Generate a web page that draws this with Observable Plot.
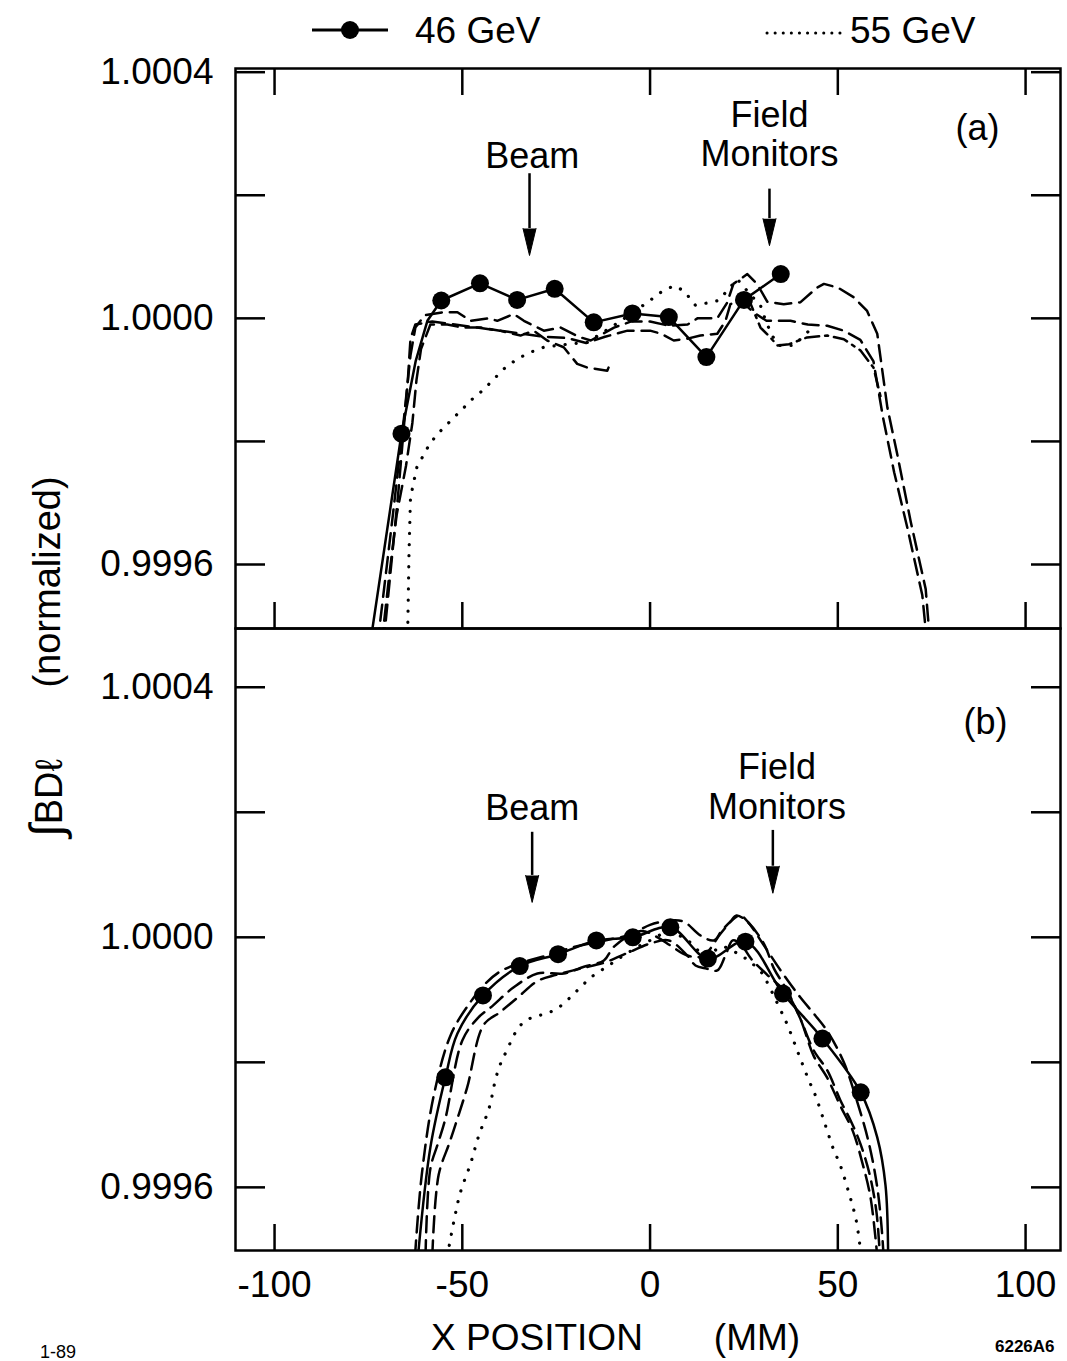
<!DOCTYPE html>
<html><head><meta charset="utf-8">
<script src="https://cdn.jsdelivr.net/npm/d3@7"></script>
<script src="https://cdn.jsdelivr.net/npm/@observablehq/plot@0.6"></script>
<style>
html,body{margin:0;padding:0;background:#fff;}
#page{position:relative;width:1067px;height:1361px;overflow:hidden;font-family:"Liberation Sans",Arial,Helvetica,sans-serif;}
#pa,#pb{position:absolute;left:0;}
#pa{top:0px;}
#pb{top:618px;}
#overlay{position:absolute;left:0;top:0;}
</style></head>
<body><div id="page"><div id="pa"></div><div id="pb"></div>
<svg id="overlay" width="1067" height="1361" font-family="Liberation Sans, Arial, Helvetica, sans-serif">
  <line x1="312" y1="30" x2="388" y2="30" stroke="black" stroke-width="3"/>
  <circle cx="350" cy="30" r="9" fill="black"/>
  <text x="415" y="43" font-size="37">46 GeV</text>
  <line x1="767" y1="33" x2="844" y2="33" stroke="black" stroke-width="3" stroke-dasharray="0.1 8" stroke-linecap="round"/>
  <text x="850" y="43" font-size="37">55 GeV</text>
  <text transform="translate(60,582) rotate(-90)" text-anchor="middle" font-size="38">(normalized)</text>
  <text transform="translate(62,798) rotate(-90)" text-anchor="middle" font-size="38"><tspan font-size="46">∫</tspan>BDℓ</text>
  <text x="537" y="1350" text-anchor="middle" font-size="37">X POSITION</text>
  <text x="757" y="1350" text-anchor="middle" font-size="37">(MM)</text>
  <text x="40" y="1358" font-size="18">1-89</text>
  <text x="995" y="1352" font-size="17" font-weight="bold">6226A6</text>
</svg>
</div>
<script>
// ---------- axis ticks ----------
const xTicks = [-100, -50, 0, 50, 100];
const xTickLabels = ["-100", "-50", "0", "50", "100"];
const yTicks = [0.9996, 0.9998, 1.0000, 1.0002, 1.0004];
const yTickLabels = ["0.9996", "", "1.0000", "", "1.0004"];

// ---------- panel (a) data: x in mm, deviation from 1 in units of 1e-4 ----------
const a46X = [-74.2, -66.2, -62.4, -59.3, -55.6, -45.3, -35.4, -25.4, -15.0, -4.7, 5.0, 15.0, 25.0, 34.8];
const a46D = [-5.15, -1.875, -0.69, -0.04, 0.29, 0.57, 0.30, 0.48, -0.065, 0.08, 0.02, -0.63, 0.30, 0.72];
const a46Dot = [0, 1, 0, 0, 1, 1, 1, 1, 1, 1, 1, 1, 1, 1];

const a55X = [-64.6, -64.2, -63.8, -62.1, -58.5, -55.8, -47.3, -44.7, -38.9, -35.4, -31.8, -28.3, -22.0, -16.7, -8.0, -0.7, 2.8, 6.3, 9.0, 12.1, 18.3, 23.2, 26.5, 29.4, 30.8, 32.5, 34.3, 38.3, 43.2];
const a55D = [-5.3, -3.83, -2.91, -2.42, -2.02, -1.83, -1.31, -1.18, -0.82, -0.66, -0.55, -0.47, -0.42, -0.39, -0.05, 0.26, 0.42, 0.53, 0.45, 0.21, 0.29, 0.64, 0.4, 0.21, -0.04, -0.28, -0.44, -0.44, -0.15];

const aD1X = [-72.6, -68.5, -65.5, -63.8, -62.5, -60.0, -55.0, -51.3, -47.8, -43.0, -40.7, -36.3, -33.6, -28.3, -23.8, -19.0, -15.8, -9.6, -5.0, 0.0, 5.0, 10.0, 12.6, 17.9, 20.5, 22.2, 25.9, 28.5, 31.2, 35.6, 40.0, 44.5, 46.3, 50.0, 54.3, 57.8, 60.5, 63.2, 65.8, 69.4, 73.4, 74.6];
const aD1D = [-5.3, -3.2, -1.6, -0.6, -0.15, 0.05, 0.1, 0.1, -0.04, 0.0, -0.04, 0.07, -0.04, -0.2, -0.15, -0.3, -0.36, -0.15, -0.05, -0.05, -0.12, -0.1, 0.0, 0.0, 0.25, 0.56, 0.72, 0.56, 0.27, 0.23, 0.26, 0.5, 0.56, 0.5, 0.34, 0.12, -0.25, -1.45, -2.2, -3.3, -4.4, -5.3];

const aD2X = [-71.5, -69.5, -67.5, -65.0, -63.3, -62.2, -61.0, -58.5, -54.0, -50.0, -45.0, -40.0, -34.5, -31.0, -27.4, -23.0, -19.4, -16.7, -11.4, -10.5];
const aD2D = [-5.3, -4.2, -3.2, -2.4, -1.7, -1.0, -0.5, -0.1, -0.1, -0.15, -0.15, -0.2, -0.28, -0.2, -0.36, -0.47, -0.74, -0.8, -0.85, -0.72];

const aD3X = [-71.0, -67.0, -64.5, -63.8, -62.5, -58.0, -52.0, -46.0, -40.0, -34.0, -28.0, -22.0, -17.0, -12.0, -6.0, 0.0, 3.0, 6.3, 10.0, 13.4, 17.9, 20.1, 21.4, 24.0, 27.5, 31.0, 37.4, 42.0, 47.2, 51.6, 56.0, 59.5, 62.0, 65.0, 68.5, 72.5, 73.8];
const aD3D = [-5.3, -2.8, -1.0, -0.33, -0.1, -0.05, -0.1, -0.15, -0.2, -0.25, -0.3, -0.32, -0.4, -0.3, -0.2, -0.2, -0.25, -0.36, -0.33, -0.28, -0.25, -0.04, 0.23, 0.3, 0.1, -0.04, -0.04, -0.1, -0.12, -0.2, -0.35, -0.7, -1.6, -2.5, -3.4, -4.5, -5.3];

const aD4X = [26.0, 29.4, 32.0, 33.9, 37.0, 41.8, 47.2, 51.6, 56.0, 59.5, 61.5];
const aD4D = [0.35, -0.15, -0.31, -0.44, -0.42, -0.31, -0.28, -0.34, -0.52, -0.8, -1.3];

// ---------- panel (b) data ----------
const b46X = [-61.8, -58.5, -54.5, -51.3, -44.5, -34.7, -24.5, -14.3, -4.6, 5.4, 15.4, 25.4, 35.4, 45.9, 56.1, 60.5, 62.7, 63.4];
const b46D = [-5.1, -3.36, -2.24, -1.54, -0.93, -0.46, -0.27, -0.05, 0.0, 0.16, -0.34, -0.07, -0.9, -1.62, -2.48, -3.2, -3.97, -5.1];
const b46Dot = [0, 0, 1, 0, 1, 1, 1, 1, 1, 1, 1, 1, 1, 1, 1, 0, 0, 0];

const b55X = [-54.0, -52.2, -50.5, -47.8, -45.6, -42.9, -41.1, -40.0, -38.4, -34.7, -31.4, -27.6, -24.3, -21.4, -18.7, -15.7, -11.0, -6.0, 0.0, 5.0, 10.0, 15.0, 19.0, 23.6, 26.8, 29.9, 31.6, 34.8, 36.5, 39.5, 42.3, 43.9, 46.5, 48.9, 50.5, 52.9, 54.9, 56.2];
const b55D = [-5.1, -4.53, -4.08, -3.62, -3.17, -2.74, -2.26, -2.05, -1.84, -1.42, -1.28, -1.22, -1.12, -0.97, -0.81, -0.64, -0.45, -0.25, -0.05, 0.08, -0.05, -0.3, -0.15, -0.27, -0.4, -0.58, -0.77, -1.17, -1.39, -1.86, -2.29, -2.51, -2.97, -3.4, -3.62, -4.08, -4.53, -5.1];

const bD1X = [-62.6, -60.8, -57.5, -53.0, -48.0, -44.0, -40.0, -35.0, -28.0, -20.0, -12.0, -5.0, 0.0, 5.5, 9.0, 13.4, 17.0, 19.0, 21.4, 24.0, 26.0, 30.0, 35.0, 40.0, 44.0, 47.2, 51.6, 55.0, 58.3, 60.5, 61.6, 62.2];
const bD1D = [-5.1, -3.8, -2.5, -1.55, -1.05, -0.75, -0.55, -0.42, -0.3, -0.15, -0.05, 0.05, 0.2, 0.27, 0.25, 0.03, -0.05, 0.1, 0.25, 0.35, 0.25, -0.1, -0.55, -0.96, -1.25, -1.5, -2.0, -2.6, -3.3, -4.0, -4.6, -5.1];

const bD2X = [-59.8, -58.5, -56.5, -54.5, -50.0, -46.0, -42.0, -36.3, -30.0, -23.0, -17.6, -12.3, -9.6, -2.5, 2.0, 5.4, 9.9, 14.0, 18.8, 21.4, 23.0, 25.9, 30.3, 33.0, 36.5, 40.0, 43.6, 47.2, 50.7, 53.4, 56.0, 58.5, 60.3, 61.2];
const bD2D = [-5.1, -3.7, -3.3, -2.9, -1.65, -1.3, -1.1, -0.8, -0.58, -0.58, -0.47, -0.37, -0.15, 0.1, 0.0, -0.13, -0.29, -0.3, 0.06, 0.25, 0.35, 0.25, -0.1, -0.5, -0.85, -1.3, -1.81, -2.13, -2.61, -2.93, -3.3, -3.8, -4.4, -5.1];

const bD3X = [-58.0, -56.3, -53.5, -51.3, -48.7, -44.3, -40.0, -35.0, -30.0, -25.0, -18.5, -12.0, -6.0, 0.0, 5.0, 9.9, 12.1, 15.0, 17.9, 20.0, 22.0, 24.0, 27.0, 31.2, 36.5, 40.0, 43.6, 47.2, 50.7, 54.0, 56.5, 58.7, 60.5];
const bD3D = [-5.1, -3.8, -3.3, -2.9, -2.4, -1.4, -1.2, -0.95, -0.7, -0.6, -0.5, -0.4, -0.25, -0.1, -0.05, -0.29, -0.45, -0.5, -0.53, -0.3, -0.05, -0.1, -0.35, -0.6, -0.9, -1.3, -1.9, -2.25, -2.7, -3.1, -3.6, -4.16, -5.1];

// ---------- annotations (data coordinates; deviation units of 1e-4) ----------
const aLabelText = ["Beam", "Field", "Monitors", "(a)"];
const aLabelX = [-31.4, 31.8, 31.8, 87.2];
const aLabelD = [2.63, 3.30, 2.66, 3.085];
const aArrowX = [-32.1, 31.8];
const aArrowTopD = [2.35, 2.1];
const aArrowHeadD = [1.46, 1.62];

const bLabelText = ["Beam", "Field", "Monitors", "(b)"];
const bLabelX = [-31.4, 33.8, 33.8, 89.3];
const bLabelD = [2.066, 2.71, 2.075, 3.44];
const bArrowX = [-31.4, 32.7];
const bArrowTopD = [1.68, 1.71];
const bArrowHeadD = [0.99, 1.137];

// ---------- helpers ----------
const toY = d => 1 + d * 1e-4;
const series = (xs, ds) => xs.map((x, i) => ({x, y: toY(ds[i])}));
const yLabel = d => { const i = yTicks.findIndex(t => Math.abs(t - d) < 1e-9); return i < 0 ? "" : yTickLabels[i]; };
const xLabel = d => { const i = xTicks.findIndex(t => Math.abs(t - d) < 1e-9); return i < 0 ? "" : xTickLabels[i]; };

const SW = 2.5;
const solid = {stroke: "black", strokeWidth: SW, clip: true};
const dashed = {stroke: "black", strokeWidth: SW, strokeDasharray: "16,8", clip: true};
const dashDot = {stroke: "black", strokeWidth: SW, strokeDasharray: "14,6,3,6", clip: true};
const dotted = {stroke: "black", strokeWidth: 3.2, strokeDasharray: "0.1,11", strokeLinecap: "round", clip: true};

const xDomain = [-110.4, 109.3];
const style = {fontFamily: "Liberation Sans, Arial, Helvetica, sans-serif", fontSize: "37px", background: "transparent", overflow: "visible", color: "black"};

function annotations(texts, lx, ld, ax, atop, ahead) {
  const lab = texts.map((t, i) => ({t, x: lx[i], y: toY(ld[i])}));
  const arr = ax.map((x, i) => ({x, y1: toY(atop[i]), y2: toY(ahead[i])}));
  return [
    Plot.text(lab, {x: "x", y: "y", text: "t", fontSize: 36, textAnchor: "middle", lineAnchor: "middle", fill: "black"}),
    Plot.ruleX(arr, {x: "x", y1: "y1", y2: "y2", stroke: "black", strokeWidth: 2.5}),
    Plot.vector(arr, {x: "x", y: "y2", length: 27, r: 6.5, rotate: 180, anchor: "start", shape: "spike", stroke: "black", fill: "black", strokeWidth: 1})
  ];
}

function axes(withXLabels, topTicks) {
  const m = [
    Plot.axisX({ticks: xTicks, anchor: "bottom", tickSize: -26, tickPadding: 46, tickFormat: withXLabels ? xLabel : () => "", strokeWidth: SW, fontSize: 37, label: null}),
    Plot.axisY({ticks: yTicks, anchor: "left", tickSize: -30, tickPadding: 52, tickFormat: yLabel, strokeWidth: SW, fontSize: 37, label: null}),
    Plot.axisY({ticks: yTicks, anchor: "right", tickSize: -30, tickFormat: () => "", strokeWidth: SW, label: null})
  ];
  if (topTicks) m.push(Plot.axisX({ticks: xTicks, anchor: "top", tickSize: -26, tickFormat: () => "", strokeWidth: SW, label: null}));
  return m;
}

// ---------- panel (a) ----------
const a46 = series(a46X, a46D);
const panelA = Plot.plot({
  width: 1067, height: 628,
  marginTop: 68, marginBottom: 0, marginLeft: 235, marginRight: 7,
  style,
  x: {domain: xDomain},
  y: {domain: [0.999496, 1.000406]},
  marks: [
    ...axes(false, true),
    Plot.line(series(aD1X, aD1D), {x: "x", y: "y", ...dashed}),
    Plot.line(series(aD2X, aD2D), {x: "x", y: "y", ...dashed}),
    Plot.line(series(aD3X, aD3D), {x: "x", y: "y", ...dashed}),
    Plot.line(series(aD4X, aD4D), {x: "x", y: "y", ...dashDot}),
    Plot.line(series(a55X, a55D), {x: "x", y: "y", ...dotted}),
    Plot.line(a46, {x: "x", y: "y", ...solid}),
    Plot.dot(a46.filter((d, i) => a46Dot[i]), {x: "x", y: "y", r: 9, fill: "black", stroke: "none"}),
    ...annotations(aLabelText, aLabelX, aLabelD, aArrowX, aArrowTopD, aArrowHeadD),
    Plot.frame({stroke: "black", strokeWidth: SW})
  ]
});
document.getElementById("pa").appendChild(panelA);

// ---------- panel (b) ----------
const b46 = series(b46X, b46D);
const cr = {curve: "catmull-rom"};
const panelB = Plot.plot({
  width: 1067, height: 743,
  marginTop: 10, marginBottom: 111, marginLeft: 235, marginRight: 7,
  style,
  x: {domain: xDomain},
  y: {domain: [0.999499, 1.000494]},
  marks: [
    ...axes(true, false),
    Plot.line(series(bD1X, bD1D), {x: "x", y: "y", ...dashed, ...cr}),
    Plot.line(series(bD2X, bD2D), {x: "x", y: "y", ...dashed, ...cr}),
    Plot.line(series(bD3X, bD3D), {x: "x", y: "y", ...dashed, ...cr}),
    Plot.line(series(b55X, b55D), {x: "x", y: "y", ...dotted, ...cr}),
    Plot.line(b46, {x: "x", y: "y", ...solid, ...cr}),
    Plot.dot(b46.filter((d, i) => b46Dot[i]), {x: "x", y: "y", r: 9, fill: "black", stroke: "none"}),
    ...annotations(bLabelText, bLabelX, bLabelD, bArrowX, bArrowTopD, bArrowHeadD),
    Plot.frame({stroke: "black", strokeWidth: SW})
  ]
});
document.getElementById("pb").appendChild(panelB);
</script>
</body></html>
